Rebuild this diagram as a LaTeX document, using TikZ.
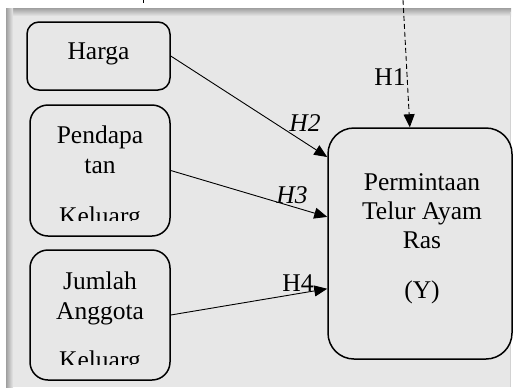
\documentclass[tikz,border=0pt]{standalone}
\usepackage{fontspec}
\setmainfont{Liberation Serif}
\usetikzlibrary{arrows.meta}
\tikzset {>={Triangle[length=13pt,width=11pt]}}
\definecolor{panelgray}{RGB}{231,231,231}

\begin{document}
\begin{tikzpicture}[x=1pt,y=-1pt,
  box/.style={draw,line width=1.5pt,fill=panelgray},
  txt/.style={font=\fontsize{25.5}{30}\selectfont,anchor=base,inner sep=0pt},
  hyp/.style={->,line width=0.9pt}]
\useasboundingbox (0,0) rectangle (513,389);
% background panel
\fill[panelgray] (6,8) rectangle (511,387);
\shade[top color=gray!75,bottom color=panelgray] (6,8) rectangle (511,16);
\shade[left color=gray!75,right color=panelgray] (6,8) rectangle (13,387);
\draw[gray!35] (510,12) -- (510,387);

% boxes
\node[box,rounded corners=12pt,minimum width=143pt,minimum height=68pt] (harga) at (98.5,56) {};
\node[box,rounded corners=18pt,minimum width=140pt,minimum height=131pt] (pend) at (100,170.5) {};
\node[box,rounded corners=18pt,minimum width=140pt,minimum height=130pt] (jml) at (100,315) {};
\node[box,rounded corners=26pt,minimum width=184pt,minimum height=231pt] (perm) at (420,243.5) {};

\node[txt] (tharga) at (98.5,59) {Harga};

\node[txt] (tpend1) at (100,143) {Pendapa};
\node[txt] (tpend2) at (100,173) {tan};
\begin{scope}
\clip (30,105) rectangle (170,220);
\node[txt] (tpend3) at (100,224) {Keluarg};
\end{scope}

\node[txt] (tjml1) at (100,289) {Jumlah};
\node[txt] (tjml2) at (100,319) {Anggota};
\begin{scope}
\clip (30,250) rectangle (170,364);
\node[txt] (tjml3) at (100,368) {Keluarg};
\end{scope}

\node[txt] (tperm1) at (422,190) {Permintaan};
\node[txt] (tperm2) at (422,219) {Telur Ayam};
\node[txt] (tperm3) at (422,248) {Ras};
\node[txt] (tperm4) at (422,298) {(Y)};

% hypotheses
\coordinate (top) at (403,0);
\coordinate (tick) at (143,0);
\draw[line width=0.8pt] (tick) -- ++(0,3);
\draw[hyp,dash pattern=on 5pt off 3pt] (top) -- (perm.95.4);
\draw[hyp] (harga.east) -- (perm.137.8);
\draw[hyp] (pend.east) -- (perm.164.5);
\draw[hyp] (jml.east) -- (perm.206.8);

\node[txt] (h1) at (390,85) {H1};
\node[txt] (h2) at (305,131) {\itshape H2};
\node[txt] (h3) at (292,203) {\itshape H3};
\node[txt] (h4) at (298,291) {H4};
\end{tikzpicture}
\end{document}
